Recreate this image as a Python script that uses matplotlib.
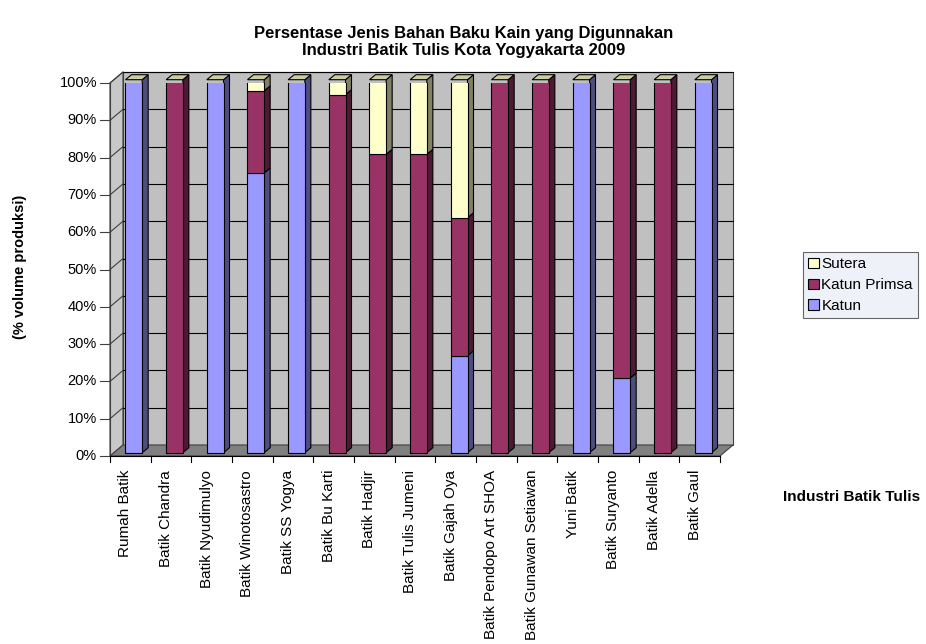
import numpy as np
import matplotlib.pyplot as plt
from matplotlib.patches import Polygon
from matplotlib.colors import to_rgb

plt.rcParams['font.family'] = ['Liberation Sans', 'DejaVu Sans']

industri = ['Rumah Batik', 'Batik Chandra', 'Batik Nyudimulyo', 'Batik Winotosastro',
            'Batik SS Yogya', 'Batik Bu Karti', 'Batik Hadjir', 'Batik Tulis Jumeni',
            'Batik Gajah Oya', 'Batik Pendopo Art SHOA', 'Batik Gunawan Setiawan',
            'Yuni Batik', 'Batik Suryanto', 'Batik Adella', 'Batik Gaul']
katun = [100, 0, 100, 75, 100, 0, 0, 0, 26, 0, 0, 100, 20, 0, 100]
katun_primsa = [0, 100, 0, 22, 0, 96, 80, 80, 37, 100, 100, 0, 80, 100, 0]
sutera = [0, 0, 0, 3, 0, 4, 20, 20, 37, 0, 0, 0, 0, 0, 0]
yticks = [0, 10, 20, 30, 40, 50, 60, 70, 80, 90, 100]

series = [('Katun', katun, '#9999FF'),
          ('Katun Primsa', katun_primsa, '#993366'),
          ('Sutera', sutera, '#FFFFCC')]

W, H = 926, 644
fig = plt.figure(figsize=(W / 100, H / 100), dpi=100)
fig.patch.set_facecolor('white')

# front plane of the plot box in pixels
x0, x1, y0, y1 = 110, 720, 456, 83
ax = fig.add_axes([x0 / W, 1 - y0 / H, (x1 - x0) / W, (y0 - y1) / H])
n = len(industri)
ax.set_xlim(0, n)
ax.set_ylim(0, 100)
ax.axis('off')

px_x = n / (x1 - x0)       # data units per pixel
px_y = 100 / (y0 - y1)
ddx, ddy = 13 * px_x, 11 * px_y   # depth of box
bdx, bdy = 6 * px_x, 5 * px_y     # depth of a bar
offx, offy = 3.5 * px_x, 3.3 * px_y


def shade(c, f):
    r, g, b = to_rgb(c)
    return (r * f, g * f, b * f)


def poly(pts, fc, ec='black', lw=0.8, z=1):
    ax.add_patch(Polygon(pts, closed=True, facecolor=fc, edgecolor=ec,
                         linewidth=lw, zorder=z, clip_on=False))


# walls and floor
poly([(0, 0), (ddx, ddy), (ddx, 100 + ddy), (0, 100)], '#C8C8C8', ec='#404040', z=0)
poly([(ddx, ddy), (n + ddx, ddy), (n + ddx, 100 + ddy), (ddx, 100 + ddy)], '#C0C0C0', ec='#404040', z=0)
poly([(0, 0), (n, 0), (n + ddx, ddy), (ddx, ddy)], '#808080', ec='#404040', z=0)

for v in yticks[1:]:
    ax.plot([ddx, n + ddx], [v + ddy, v + ddy], color='black', lw=0.8, zorder=0.5, clip_on=False)
    ax.plot([0, ddx], [v, v + ddy], color='#404040', lw=0.8, zorder=0.5, clip_on=False)
for v in yticks:
    ax.plot([-10 * px_x, 0], [v, v], color='#404040', lw=0.8, clip_on=False)
    ax.text(-13 * px_x, v, f'{v}%', ha='right', va='center', fontsize=10.5)
ax.plot([0, 0], [0, 100], color='#404040', lw=0.8, clip_on=False)
ax.plot([0, n], [0, 0], color='black', lw=0.8, clip_on=False)
for i in range(n + 1):
    ax.plot([i, i], [0, -6 * px_y], color='black', lw=0.8, clip_on=False)

# bars
x = np.arange(n) + 0.5 + offx
bw = 0.41
bottom = np.zeros(n) + offy
for name, vals, col in series:
    vals = np.array(vals, dtype=float)
    ax.bar(x, vals, width=bw, bottom=bottom, color=col, edgecolor='black',
           linewidth=0.8, zorder=3, label=name)
    for xi, b, v in zip(x, bottom, vals):
        if v <= 0:
            continue
        xr = xi + bw / 2
        poly([(xr, b), (xr + bdx, b + bdy), (xr + bdx, b + v + bdy), (xr, b + v)],
             shade(col, 0.5), z=2)
    bottom = bottom + vals

top_col = shade('#FFFFCC', 0.8)
for xi, t in zip(x, bottom):
    xl, xr = xi - bw / 2, xi + bw / 2
    poly([(xl, t), (xl + bdx, t + bdy), (xr + bdx, t + bdy), (xr, t)], top_col, z=4)

for i, lab in enumerate(industri):
    ax.text(i + 0.5 - 0.12, -14 * px_y, lab, rotation=90, ha='center', va='top', fontsize=11)

handles, labels = ax.get_legend_handles_labels()
leg = fig.legend(handles[::-1], labels[::-1], loc='upper left',
                 bbox_to_anchor=(803 / W, 1 - 252 / H), fontsize=11, frameon=True,
                 fancybox=False, edgecolor='#404040', facecolor='#ECEEF8',
                 handlelength=0.7, handleheight=0.7, handletextpad=0.15,
                 borderpad=0.35, labelspacing=0.45, borderaxespad=0)
leg.get_frame().set_linewidth(0.8)

fig.text(464 / W, 1 - 42 / H,
         'Persentase Jenis Bahan Baku Kain yang Digunnakan\nIndustri Batik Tulis Kota Yogyakarta 2009',
         ha='center', va='center', fontsize=12, fontweight='bold', linespacing=1.15)
fig.text(20 / W, 1 - 267 / H, '(% volume produksi)', rotation=90, ha='center', va='center',
         fontsize=10.5, fontweight='bold')
fig.text(783 / W, 1 - 497 / H, 'Industri Batik Tulis', ha='left', va='center',
         fontsize=11, fontweight='bold')

fig.savefig('out.png', dpi=100)
